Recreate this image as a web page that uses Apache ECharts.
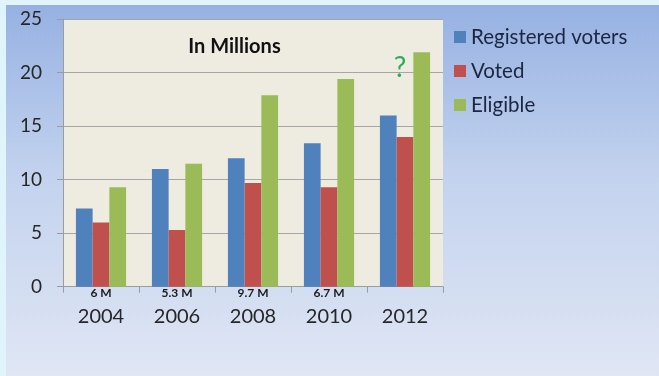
<!DOCTYPE html>
<html>
<head>
<meta charset="utf-8">
<script src="https://cdn.jsdelivr.net/npm/echarts@6/dist/echarts.min.js"></script>
<style>
  html, body { margin: 0; padding: 0; background: #e0f4fb; }
  #chart { width: 659px; height: 376px; }
</style>
</head>
<body>
<div id="chart"></div>
<script>
// Voter figures, in millions
const years = ['2004', '2006', '2008', '2010', '2012'];
const registered = [7.3, 11, 12, 13.4, 16];
const voted = [6, 5.3, 9.7, 9.3, 14];
const eligible = [9.3, 11.5, 17.9, 19.4, 21.9];
// small notes printed under each year
const notes = ['6 M', '5.3 M', '9.7 M', '6.7 M', ''];
const yTicks = [0, 5, 10, 15, 20, 25];

const FONT = 'Lato';
const chart = echarts.init(document.getElementById('chart'), null, { renderer: 'canvas' });

chart.setOption({
  animation: false,
  textStyle: { fontFamily: FONT },
  graphic: [
    {
      type: 'rect', z: -10, silent: true,
      shape: { x: 6, y: 5, width: 653, height: 371 },
      style: {
        fill: new echarts.graphic.LinearGradient(0, 0, 0, 1, [
          { offset: 0, color: '#96b1e2' },
          { offset: 0.45, color: '#c2d2ee' },
          { offset: 1, color: '#e0e6f4' }
        ])
      }
    },
    {
      type: 'text', z: 10,
      style: {
        x: 234.5, y: 46.5, text: 'In Millions',
        textAlign: 'center', textVerticalAlign: 'middle',
        font: 'bold 20px ' + FONT, fill: '#111'
      }
    },
    {
      type: 'text', z: 10,
      style: {
        x: 400, y: 68, text: '?',
        textAlign: 'center', textVerticalAlign: 'middle',
        font: '28px ' + FONT, fill: '#2fab55'
      }
    }
  ],
  legend: {
    orient: 'vertical',
    left: 454, top: 26.5, padding: 0,
    itemWidth: 12, itemHeight: 12, itemGap: 13,
    icon: 'rect',
    textStyle: { fontSize: 20.5, color: '#1b2640', lineHeight: 20 },
    data: ['Registered voters', 'Voted', 'Eligible']
  },
  grid: {
    left: 63, top: 19.2, width: 380, height: 267.5,
    show: true, backgroundColor: '#eeebe1', borderWidth: 0
  },
  xAxis: {
    type: 'category',
    data: years,
    axisLine: { show: true, lineStyle: { color: '#9c9c9c', width: 1 } },
    axisTick: { show: true, length: 6, lineStyle: { color: '#9c9c9c' } },
    axisLabel: {
      margin: 0,
      formatter: function (v, i) { return '{a|' + notes[i] + '}\n{b|' + v + '}'; },
      rich: {
        a: { fontSize: 12, fontWeight: 'bold', color: '#1a1a1a', lineHeight: 13 },
        b: { fontSize: 20, color: '#262626', lineHeight: 34 }
      }
    }
  },
  yAxis: {
    type: 'value',
    min: yTicks[0], max: yTicks[yTicks.length - 1], interval: 5,
    axisLine: { show: true, lineStyle: { color: '#9c9c9c' } },
    axisTick: { show: true, length: 6, lineStyle: { color: '#9c9c9c' } },
    axisLabel: { margin: 21, fontSize: 19, color: '#262626' },
    splitLine: { lineStyle: { color: '#a6a6a6', width: 1 } }
  },
  series: [
    { name: 'Registered voters', type: 'bar', data: registered, itemStyle: { color: '#4f81bd' }, barGap: '0%', barCategoryGap: '34%' },
    { name: 'Voted', type: 'bar', data: voted, itemStyle: { color: '#c0504d' }, barGap: '0%', barCategoryGap: '34%' },
    { name: 'Eligible', type: 'bar', data: eligible, itemStyle: { color: '#9bbb59' }, barGap: '0%', barCategoryGap: '34%' }
  ]
});
</script>
</body>
</html>
